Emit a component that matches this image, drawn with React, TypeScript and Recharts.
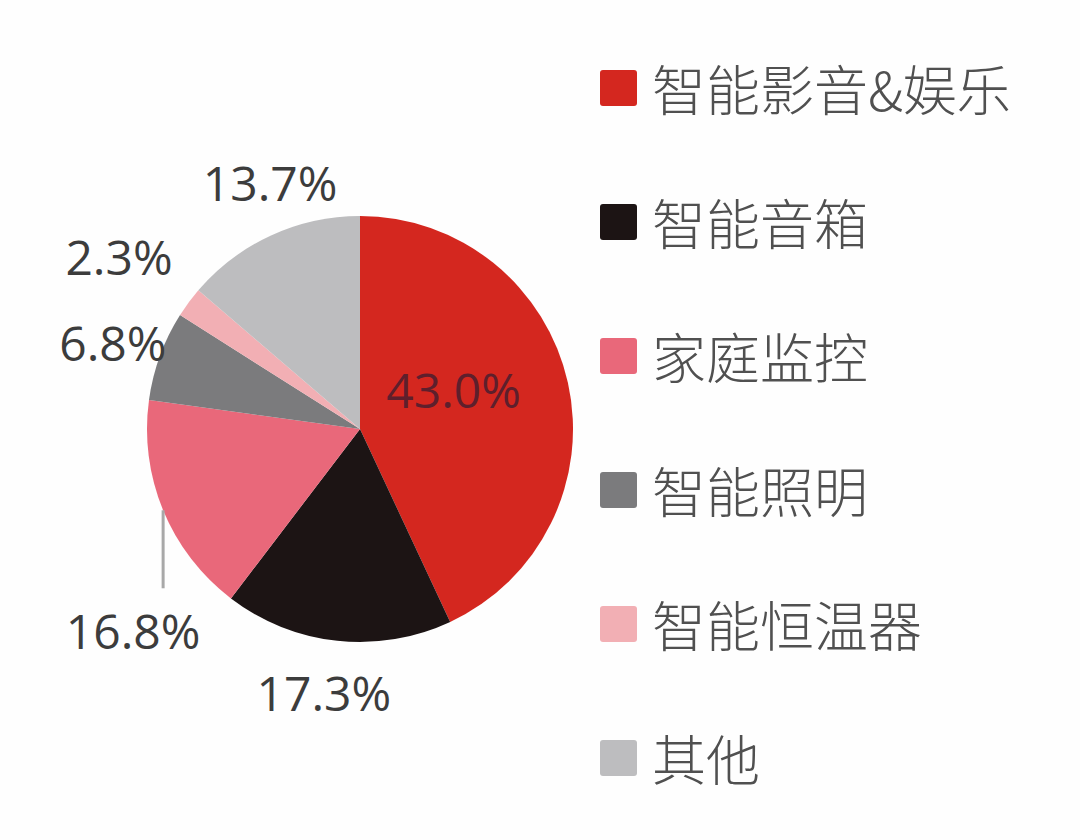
import React from "react";
import { PieChart, Pie, Cell, Legend } from "recharts";

/* ---------- data ---------- */

const categories = ["智能影音&娱乐", "智能音箱", "家庭监控", "智能照明", "智能恒温器", "其他"];
const shares = [43.0, 17.3, 16.8, 6.8, 2.3, 13.7];

const COLORS = ["#d4271f", "#1c1414", "#e9687a", "#7b7b7d", "#f2afb4", "#bdbdbf"];

const data = categories.map((name, i) => ({ name, value: shares[i] }));

/* ---------- label layout (radius from center, nudges) ---------- */

const LABEL_LAYOUT = [
  { r: 100, dx: -4, dy: -18 }, // inside red slice
  { r: 263, dx: -8, dy: 2 },
  { r: 0, dx: 0, dy: 0 }, // drawn with the vertical leader line
  { r: 261, dx: -2, dy: 3 },
  { r: 296, dx: -3, dy: 4 },
  { r: 263, dx: 20, dy: -8 },
];

const LEADER_LENGTH = 78;
const RAD = Math.PI / 180;
const LABEL_FONT = "'Open Sans', 'Liberation Sans', sans-serif";

function renderLabel(props: any) {
  const { cx, cy, midAngle, outerRadius, index, value } = props;
  const text = `${Number(value).toFixed(1)}%`;
  let x: number;
  let y: number;
  if (index === 2) {
    x = cx + outerRadius * Math.cos(-midAngle * RAD) - 30;
    y = cy + outerRadius * Math.sin(-midAngle * RAD) + LEADER_LENGTH + 42;
  } else {
    const l = LABEL_LAYOUT[index];
    x = cx + l.r * Math.cos(-midAngle * RAD) + l.dx;
    y = cy + l.r * Math.sin(-midAngle * RAD) + l.dy;
  }
  return (
    <text
      x={x}
      y={y}
      textAnchor="middle"
      dominantBaseline="central"
      fontFamily={LABEL_FONT}
      fontSize={48}
      fill={index === 0 ? "#5e1f2c" : "#3c3c3c"}
    >
      {text}
    </text>
  );
}

function renderLabelLine(props: any) {
  const { index, points } = props;
  if (index !== 2 || !points || !points[0]) return <g />;
  const p = points[0];
  return (
    <line
      x1={p.x}
      y1={p.y}
      x2={p.x}
      y2={p.y + LEADER_LENGTH}
      stroke="#a8a8a8"
      strokeWidth={3}
    />
  );
}

// legend drawn from our own arrays so the order stays as in the source
function LegendList() {
  return (
    <div style={{ display: "flex", flexDirection: "column", gap: 80 }}>
      {categories.map((name, i) => (
        <div key={name} style={{ display: "flex", alignItems: "center", height: 54 }}>
          <span
            style={{
              display: "inline-block",
              width: 37,
              height: 36,
              borderRadius: 3,
              background: COLORS[i],
              marginRight: 15,
            }}
          />
          <span
            style={{
              fontFamily: "'Noto Sans CJK SC', sans-serif",
              fontSize: 54,
              fontWeight: 300,
              lineHeight: "54px",
              color: "#505050",
            }}
          >
            {name}
          </span>
        </div>
      ))}
    </div>
  );
}

export default function App() {
  return (
    <div
      style={{
        position: "absolute",
        left: 0,
        top: 0,
        width: 1080,
        height: 840,
        background: "#fefefe",
      }}
    >
      <PieChart width={1080} height={840}>
        <Pie
          data={data}
          dataKey="value"
          nameKey="name"
          cx={355}
          cy={424}
          outerRadius={213}
          startAngle={90}
          endAngle={-270}
          stroke="none"
          label={renderLabel}
          labelLine={renderLabelLine}
          isAnimationActive={false}
        >
          {data.map((d, i) => (
            <Cell key={d.name} fill={COLORS[i]} />
          ))}
        </Pie>
        <Legend
          layout="vertical"
          content={<LegendList />}
          wrapperStyle={{ position: "absolute", left: 600, top: 61, width: 470 }}
        />
      </PieChart>
    </div>
  );
}
